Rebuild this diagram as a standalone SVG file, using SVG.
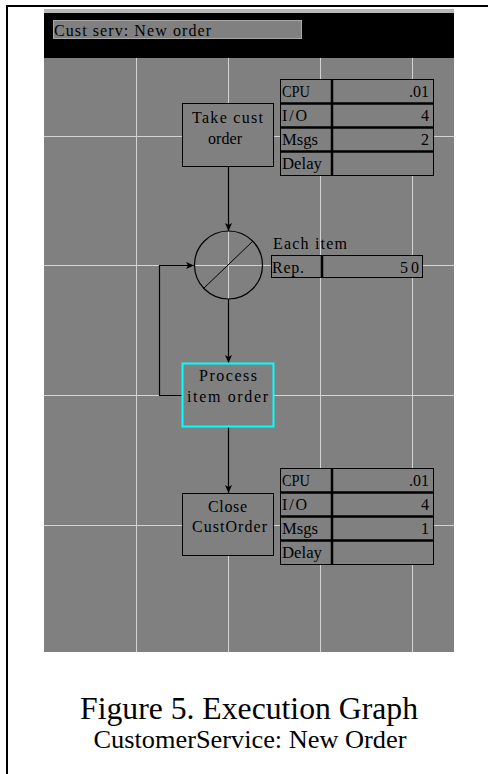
<svg xmlns="http://www.w3.org/2000/svg" width="488" height="774" viewBox="0 0 488 774">
<style>
.t{font-family:"Liberation Serif","Times New Roman",serif;font-size:16px;fill:#000}
.cap{font-family:"Liberation Serif","Times New Roman",serif;fill:#000;text-anchor:middle}
.grid{stroke:#d4d4d4;stroke-width:1}
.box{fill:#808080;stroke:#000;stroke-width:1}
.conn{fill:none;stroke:#000;stroke-width:1.2}
.sep{stroke:#000;stroke-width:2.5}
.vr{stroke:#000;stroke-width:2.5}
</style>
<defs>
<marker id="ah" markerWidth="9" markerHeight="8" refX="8" refY="3.5" orient="auto" markerUnits="userSpaceOnUse" viewBox="0 0 9 8">
<path d="M0,0 L2,3.5 L0,7 L8,3.5 Z" fill="#000"/>
</marker>
</defs>
<rect width="488" height="774" fill="#fff"/>
<g id="frame">
<line x1="6" y1="6" x2="488" y2="6" stroke="#000" stroke-width="2"/>
<line x1="7" y1="5" x2="7" y2="774" stroke="#000" stroke-width="2"/>
</g>
<g id="panel">
<rect x="44" y="9" width="410" height="643" fill="#808080"/>
<rect x="44" y="9" width="410" height="4" fill="#b8b8b8"/>
<rect x="44" y="13" width="410" height="45" fill="#000"/>
<rect x="53.5" y="20.5" width="248" height="18" fill="#808080" stroke="#a8a8a8" stroke-width="1"/>
<text class="t" x="54" y="36" textLength="157" lengthAdjust="spacing">Cust serv: New order</text>
</g>
<g id="grid">
<line class="grid" x1="136.5" y1="58" x2="136.5" y2="652"/>
<line class="grid" x1="228.5" y1="58" x2="228.5" y2="652"/>
<line class="grid" x1="320.5" y1="58" x2="320.5" y2="652"/>
<line class="grid" x1="412.5" y1="58" x2="412.5" y2="652"/>
<line class="grid" x1="44" y1="136.5" x2="454" y2="136.5"/>
<line class="grid" x1="44" y1="265.5" x2="454" y2="265.5"/>
<line class="grid" x1="44" y1="395.5" x2="454" y2="395.5"/>
<line class="grid" x1="44" y1="525.5" x2="454" y2="525.5"/>
</g>
<g id="connectors">
<line class="conn" x1="228.5" y1="167" x2="228.5" y2="231" marker-end="url(#ah)"/>
<line class="conn" x1="228.5" y1="299" x2="228.5" y2="363" marker-end="url(#ah)"/>
<line class="conn" x1="228.5" y1="427" x2="228.5" y2="493" marker-end="url(#ah)"/>
<polyline class="conn" points="182,395.5 159.5,395.5 159.5,265.5 194,265.5" marker-end="url(#ah)"/>
</g>
<g id="take-cust-order">
<rect class="box" x="182.5" y="103.5" width="91" height="63"/>
<text class="t" x="192" y="123" textLength="71" lengthAdjust="spacing">Take cust</text>
<text class="t" x="208" y="144" textLength="34" lengthAdjust="spacing">order</text>
</g>
<g id="table1">
<rect class="box" x="280.5" y="79.5" width="153" height="96"/>
<line class="sep" x1="280" y1="103.5" x2="434" y2="103.5"/>
<line class="sep" x1="280" y1="127.5" x2="434" y2="127.5"/>
<line class="sep" x1="280" y1="151.5" x2="434" y2="151.5"/>
<line class="vr" x1="332" y1="79" x2="332" y2="176"/>
<text class="t" x="282" y="97" textLength="28" lengthAdjust="spacingAndGlyphs">CPU</text>
<text class="t" x="282" y="121" textLength="25" lengthAdjust="spacing">I/O</text>
<text class="t" x="282" y="145" textLength="36" lengthAdjust="spacingAndGlyphs">Msgs</text>
<text class="t" x="282" y="169" textLength="40" lengthAdjust="spacingAndGlyphs">Delay</text>
<text class="t" x="429" y="97" text-anchor="end">.01</text>
<text class="t" x="429" y="121" text-anchor="end">4</text>
<text class="t" x="429" y="145" text-anchor="end">2</text>
</g>
<g id="each-item">
<circle cx="228.5" cy="265" r="34" fill="none" stroke="#000" stroke-width="1.2"/>
<line x1="203" y1="289" x2="253" y2="241" stroke="#000" stroke-width="1"/>
<text class="t" x="273" y="249" textLength="74" lengthAdjust="spacing">Each item</text>
<rect class="box" x="271.5" y="255.5" width="151" height="22"/>
<line class="vr" x1="322" y1="255" x2="322" y2="278"/>
<text class="t" x="272" y="273" textLength="32" lengthAdjust="spacing">Rep.</text>
<text class="t" x="400" y="273" textLength="19" lengthAdjust="spacing">50</text>
</g>
<g id="process-item-order">
<rect x="182.5" y="363.5" width="91" height="63" fill="#808080" stroke="#00ffff" stroke-width="2"/>
<text class="t" x="199" y="381" textLength="58" lengthAdjust="spacing">Process</text>
<text class="t" x="187" y="402" textLength="81" lengthAdjust="spacing">item order</text>
</g>
<g id="close-cust-order">
<rect class="box" x="182.5" y="493.5" width="91" height="62"/>
<text class="t" x="208" y="512" textLength="39" lengthAdjust="spacing">Close</text>
<text class="t" x="192" y="532" textLength="75" lengthAdjust="spacing">CustOrder</text>
</g>
<g id="table2">
<rect class="box" x="280.5" y="468.5" width="153" height="96"/>
<line class="sep" x1="280" y1="492.5" x2="434" y2="492.5"/>
<line class="sep" x1="280" y1="516.5" x2="434" y2="516.5"/>
<line class="sep" x1="280" y1="540.5" x2="434" y2="540.5"/>
<line class="vr" x1="332" y1="468" x2="332" y2="565"/>
<text class="t" x="282" y="486" textLength="28" lengthAdjust="spacingAndGlyphs">CPU</text>
<text class="t" x="282" y="510" textLength="25" lengthAdjust="spacing">I/O</text>
<text class="t" x="282" y="534" textLength="36" lengthAdjust="spacingAndGlyphs">Msgs</text>
<text class="t" x="282" y="558" textLength="40" lengthAdjust="spacingAndGlyphs">Delay</text>
<text class="t" x="429" y="486" text-anchor="end">.01</text>
<text class="t" x="429" y="510" text-anchor="end">4</text>
<text class="t" x="429" y="534" text-anchor="end">1</text>
</g>
<g id="caption">
<text class="cap" x="249" y="719" font-size="31" textLength="338" lengthAdjust="spacingAndGlyphs">Figure 5. Execution Graph</text>
<text class="cap" x="250" y="748" font-size="25" textLength="313" lengthAdjust="spacingAndGlyphs">CustomerService: New Order</text>
</g>
</svg>
